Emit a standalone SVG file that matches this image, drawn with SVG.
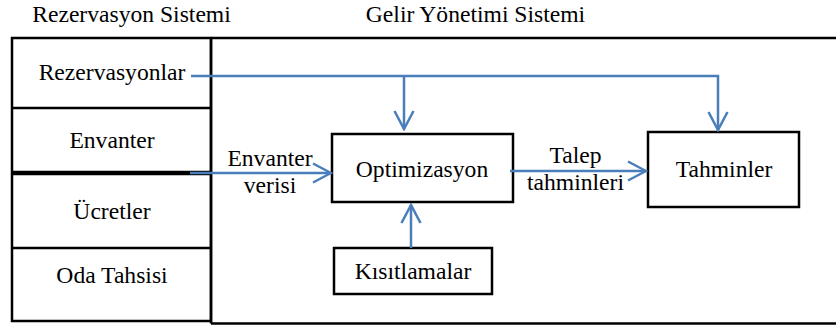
<svg xmlns="http://www.w3.org/2000/svg" width="836" height="326" viewBox="0 0 836 326">
<defs>
<style>
.box{fill:#fff;stroke:#000;stroke-width:2.5}
.ln{fill:none;stroke:#000;stroke-width:2.5}
.c{fill:none;stroke:#4a7ebb;stroke-width:2.5}
</style>
<marker id="ah" viewBox="-20 -11 22 22" refX="0" refY="0" markerWidth="22" markerHeight="22" markerUnits="userSpaceOnUse" orient="auto">
<path d="M-18,-9.5 L0,0 L-18,9.5" fill="none" stroke="#4a7ebb" stroke-width="2.5"/>
</marker>
</defs>
<rect width="836" height="326" fill="#fff"/>
<g id="titles">
<text x="131.5" y="22" font-family="Liberation Serif, serif" font-size="23.6" text-anchor="middle">Rezervasyon Sistemi</text>
<text x="475.5" y="22" font-family="Liberation Serif, serif" font-size="23.6" text-anchor="middle">Gelir Yönetimi Sistemi</text>
</g>
<g id="gelir-yonetimi-sistemi">
<path class="ln" d="M211,38 H836 M211,38 V323.5 M211,323.5 H836"/>
</g>
<g id="rezervasyon-sistemi">
<path class="ln" d="M12,38 H211 V321 H12 Z M12,108 H211 M12,248 H211"/>
<path d="M12,173 H211" stroke="#000" stroke-width="4.5"/>
</g>
<g id="rezervasyonlar"><text x="112" y="80" font-family="Liberation Serif, serif" font-size="23.6" text-anchor="middle">Rezervasyonlar</text></g>
<g id="envanter"><text x="112" y="148" font-family="Liberation Serif, serif" font-size="23.6" text-anchor="middle">Envanter</text></g>
<g id="ucretler"><text x="112" y="219" font-family="Liberation Serif, serif" font-size="23.6" text-anchor="middle">Ücretler</text></g>
<g id="oda-tahsisi"><text x="112" y="283" font-family="Liberation Serif, serif" font-size="23.6" text-anchor="middle">Oda Tahsisi</text></g>
<g id="optimizasyon">
<rect class="box" x="332" y="134" width="181" height="68"/>
<text x="422" y="177" font-family="Liberation Serif, serif" font-size="23.6" text-anchor="middle">Optimizasyon</text>
</g>
<g id="tahminler">
<rect class="box" x="648" y="132" width="151" height="75"/>
<text x="724" y="177" font-family="Liberation Serif, serif" font-size="23.6" text-anchor="middle">Tahminler</text>
</g>
<g id="kisitlamalar">
<rect class="box" x="334" y="248" width="158" height="46"/>
<text x="413" y="279" font-family="Liberation Serif, serif" font-size="23.6" text-anchor="middle">Kısıtlamalar</text>
</g>
<g id="connectors">
<path class="c" d="M191,76 H718 V130" marker-end="url(#ah)"/>
<path class="c" d="M404,76 V129" marker-end="url(#ah)"/>
<path class="c" d="M190,173 H331" marker-end="url(#ah)"/>
<path class="c" d="M510,171 H646" marker-end="url(#ah)"/>
<path class="c" d="M411,248 V205" marker-end="url(#ah)"/>
</g>
<g id="labels">
<text x="270" y="166" font-family="Liberation Serif, serif" font-size="23.6" text-anchor="middle">Envanter</text>
<text x="270" y="193" font-family="Liberation Serif, serif" font-size="23.6" text-anchor="middle">verisi</text>
<text x="575.5" y="163" font-family="Liberation Serif, serif" font-size="23.6" text-anchor="middle">Talep</text>
<text x="575.5" y="190" font-family="Liberation Serif, serif" font-size="23.6" text-anchor="middle">tahminleri</text>
</g>
</svg>
